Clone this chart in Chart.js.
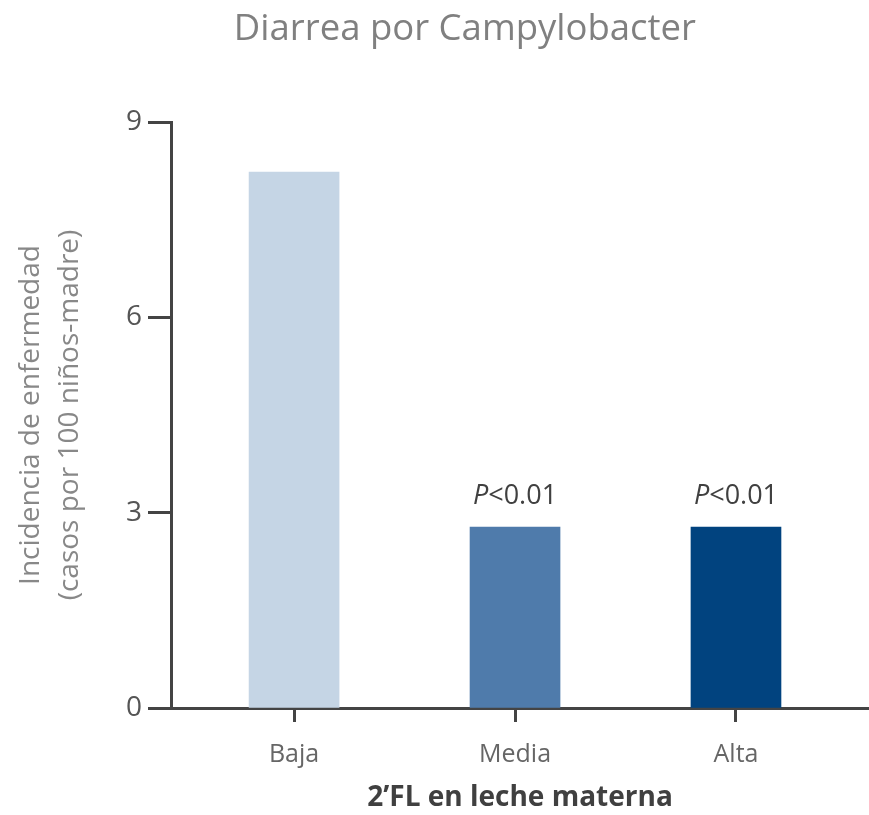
<!DOCTYPE html>
<html lang="es">
<head>
    <meta charset="UTF-8">
    <title>Diarrea por Campylobacter</title>
    <script src="https://cdn.jsdelivr.net/npm/chart.js@4.4.0/dist/chart.umd.min.js"></script>
    <style>
        *{box-sizing:border-box}
        html,body{margin:0;padding:0;background:#fff}
        #wrap{width:869px;height:815px}
    </style>
</head>
<body>
    <div id="wrap"><canvas id="chart" width="869" height="815"></canvas></div>

    <script>
        // Data
        const categories = ['Baja', 'Media', 'Alta'];
        const incidence = [8.23, 2.78, 2.78];
        const pLabels = ['', 'P<0.01', 'P<0.01'];
        const yTicks = [0, 3, 6, 9];
        const barColors = ['#c5d5e5', '#4f7bab', '#01437f'];

        const FONT = '"Open Sans", sans-serif';
        Chart.defaults.font.family = FONT;

        // Title, drawn a bit right of the canvas centre like the original
        const chartTitle = {
            id: 'chartTitle',
            afterDraw(chart) {
                const ctx = chart.ctx;
                ctx.save();
                ctx.font = '36.5px ' + FONT;
                ctx.fillStyle = '#808080';
                ctx.textAlign = 'center';
                ctx.textBaseline = 'middle';
                ctx.fillText('Diarrea por Campylobacter', chart.width * 0.535, 30);
                ctx.restore();
            }
        };

        // P-value labels above the bars, italic P
        const pValueLabels = {
            id: 'pValueLabels',
            afterDatasetsDraw(chart) {
                const ctx = chart.ctx;
                const meta = chart.getDatasetMeta(0);
                ctx.save();
                ctx.fillStyle = '#404040';
                ctx.textBaseline = 'middle';
                ctx.textAlign = 'left';
                meta.data.forEach((bar, i) => {
                    const txt = pLabels[i];
                    if (!txt) return;
                    const first = txt.charAt(0);
                    const rest = txt.slice(1);
                    ctx.font = 'italic 27px ' + FONT;
                    const w1 = ctx.measureText(first).width;
                    ctx.font = '27px ' + FONT;
                    const w2 = ctx.measureText(rest).width;
                    const x = bar.x - (w1 + w2) / 2;
                    const y = bar.y - 31;
                    ctx.font = 'italic 27px ' + FONT;
                    ctx.fillText(first, x, y);
                    ctx.font = '27px ' + FONT;
                    ctx.fillText(rest, x + w1, y);
                });
                ctx.restore();
            }
        };

        const ctx = document.getElementById('chart').getContext('2d');
        new Chart(ctx, {
            type: 'bar',
            data: {
                datasets: [{
                    data: categories.map((c, i) => ({ x: i, y: incidence[i] })),
                    backgroundColor: barColors,
                    borderWidth: 0,
                    barThickness: 90
                }]
            },
            options: {
                responsive: false,
                animation: false,
                devicePixelRatio: 1,
                layout: { padding: { top: 122, right: 0, bottom: 0, left: 0 } },
                plugins: {
                    legend: { display: false },
                    tooltip: { enabled: false }
                },
                scales: {
                    x: {
                        type: 'linear',
                        min: -0.557,
                        max: 2.602,
                        offset: false,
                        afterBuildTicks: s => { s.ticks = categories.map((c, i) => ({ value: i })); },
                        afterFit: s => { s.height = 107; },
                        grid: { offset: false, drawOnChartArea: false, drawTicks: true, tickLength: 14, tickColor: '#444', tickWidth: 3 },
                        border: { display: true, color: '#444', width: 3 },
                        ticks: {
                            callback: v => categories[v],
                            font: { size: 25 },
                            color: '#666',
                            padding: 18,
                            maxRotation: 0,
                            autoSkip: false
                        },
                        title: {
                            display: true,
                            text: '2’FL en leche materna',
                            font: { size: 28, weight: 'bold' },
                            color: '#404040',
                            padding: { top: 0, bottom: 0 }
                        }
                    },
                    y: {
                        min: 0,
                        max: 9,
                        afterBuildTicks: s => { s.ticks = yTicks.map(v => ({ value: v })); },
                        afterFit: s => { s.width = 171; },
                        grid: { drawOnChartArea: false, drawTicks: true, tickLength: 23, tickColor: '#444', tickWidth: 3 },
                        border: { display: true, color: '#444', width: 3 },
                        ticks: { font: { size: 28 }, color: '#555', padding: 6 },
                        title: {
                            display: true,
                            text: ['Incidencia de enfermedad', '(casos por 100 niños-madre)'],
                            font: { size: 28, lineHeight: 1.4 },
                            color: '#888',
                            padding: { top: 11, bottom: 0 }
                        }
                    }
                }
            },
            plugins: [chartTitle, pValueLabels]
        });
    </script>
</body>
</html>
